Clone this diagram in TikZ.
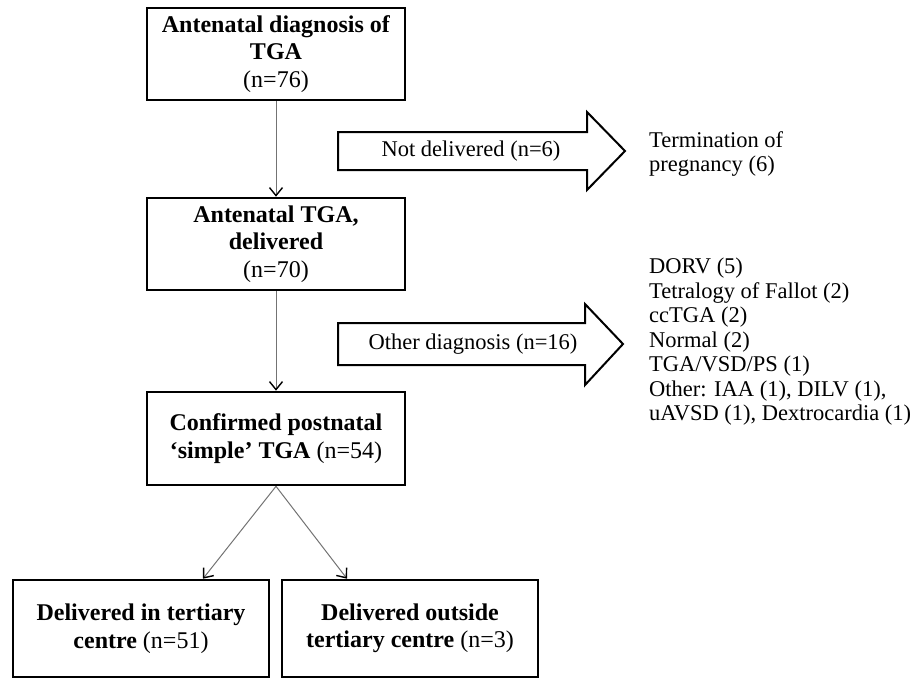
\documentclass[tikz,border=0pt]{standalone}
\usepackage{fontspec}
\setmainfont{Liberation Serif}
\usepackage{tikz}
\usetikzlibrary{positioning, arrows.meta, calc}

\begin{document}
\begin{tikzpicture}[x=1pt, y=-1pt,
    stagebox/.style={draw, line width=2.6pt, align=center, inner sep=0pt,
      font=\fontsize{24}{27.5}\selectfont},
    flow/.style={draw=black!55, line width=1pt, -{Straight Barb[black, length=8pt, width=13pt, line width=1.4pt]}},
    bigarrow/.style={draw, line width=2pt, line join=miter},
    sidetext/.style={align=left, inner sep=0pt, anchor=north west,
      font=\fontsize{22.5}{24.5}\selectfont}]
      \useasboundingbox (0,0) rectangle (923,678);

      % Main column
      \node[stagebox, minimum width=258pt, minimum height=92pt] (diag) at (276,54)
        {\textbf{Antenatal diagnosis of}\\ \textbf{TGA}\\ (n=76)};
      \node[stagebox, minimum width=258pt, minimum height=92pt] (deliv) at (276,244)
        {\textbf{Antenatal TGA,}\\ \textbf{delivered}\\ (n=70)};
      \node[stagebox, minimum width=258pt, minimum height=93pt] (conf) at (276,438.5)
        {\textbf{Confirmed postnatal}\\ \textbf{‘simple’ TGA} (n=54)};

      % Place of delivery
      \node[stagebox, minimum width=256pt, minimum height=97pt] (tert) at (141,628.5)
        {\textbf{Delivered in tertiary}\\ \textbf{centre} (n=51)};
      \node[stagebox, minimum width=256pt, minimum height=97pt] (outs) at (410,628.5)
        {\textbf{Delivered outside}\\ \textbf{tertiary centre} (n=3)};

      \draw[flow] (diag.south) -- (deliv.north);
      \draw[flow] (deliv.south) -- (conf.north);
      \draw[flow] (conf.south) -- ([xshift=62pt]tert.north);
      \draw[flow] (conf.south) -- ([xshift=-63pt]outs.north);

      % Excluded cases
      \draw[bigarrow] (338,132) -- (587,132) -- (587,112) -- (625,151)
        -- (587,190) -- (587,170) -- (338,170) -- cycle;
      \node[font=\fontsize{22.5}{24.5}\selectfont] (notdel) at (471,151) {Not delivered (n=6)};
      \node[sidetext] (top) at (649,131) {Termination of\\ pregnancy (6)};

      \draw[bigarrow] (338,323) -- (585,323) -- (585,304) -- (623,344)
        -- (585,385) -- (585,365) -- (338,365) -- cycle;
      \node[font=\fontsize{22.5}{24.5}\selectfont] (otherdiag) at (473,344) {Other diagnosis (n=16)};
      \node[sidetext] (dxlist) at (649,258)
        {DORV (5)\\ Tetralogy of Fallot (2)\\ ccTGA (2)\\ Normal (2)\\ TGA/VSD/PS (1)\\
         Other: IAA (1), DILV (1),\\ uAVSD (1), Dextrocardia (1)};
    \end{tikzpicture}
\end{document}
